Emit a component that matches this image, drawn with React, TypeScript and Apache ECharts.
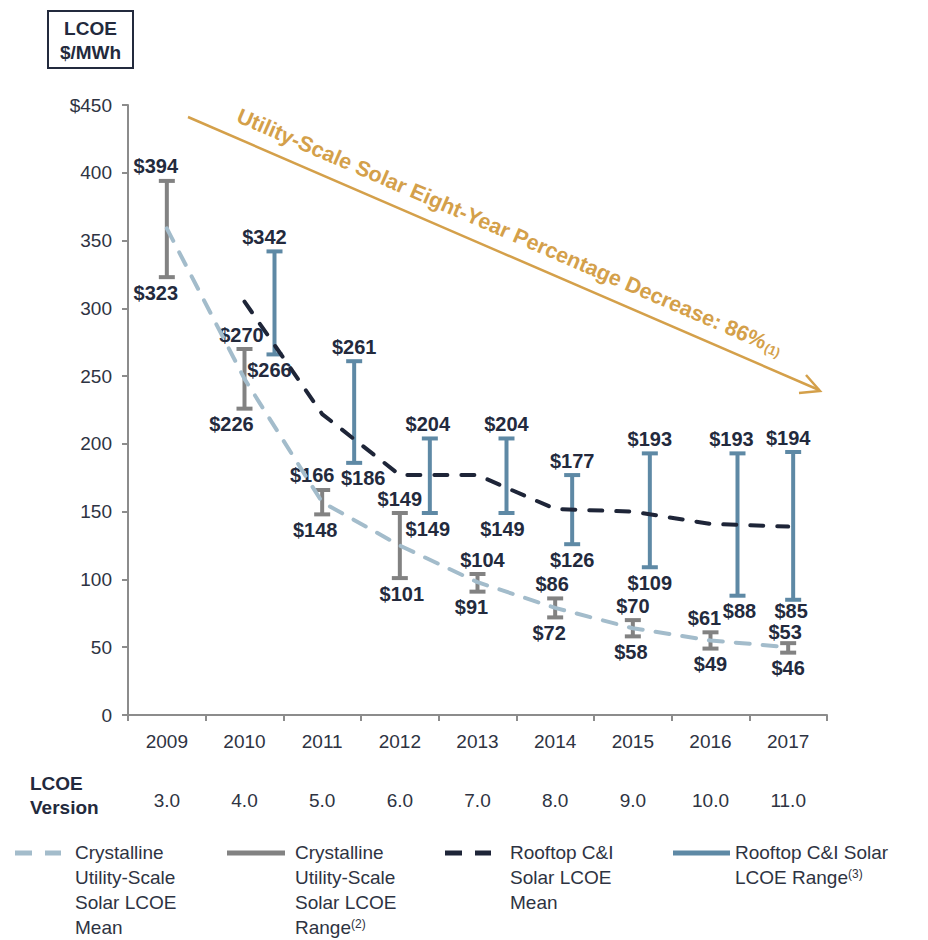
import React, { useEffect, useRef } from "react";
import * as echarts from "echarts";

const years = ["2009", "2010", "2011", "2012", "2013", "2014", "2015", "2016", "2017"];
const versions = ["3.0", "4.0", "5.0", "6.0", "7.0", "8.0", "9.0", "10.0", "11.0"];
const utilityLow = [323, 226, 148, 101, 91, 72, 58, 49, 46];
const utilityHigh = [394, 270, 166, 149, 104, 86, 70, 61, 53];
const rooftopLow = [null, 266, 186, 149, 149, 126, 109, 88, 85];
const rooftopHigh = [null, 342, 261, 204, 204, 177, 193, 193, 194];
const utilityMean = [359, 248, 157, 125, 98, 79, 64, 55, 50];
const rooftopMean = [null, 305, 222, 177, 177, 152, 150, 141, 139];
const yTicks = [0, 50, 100, 150, 200, 250, 300, 350, 400, 450];

// layout (pixel shifts, not data)
const rooftopShift = [0, 30, 32, 30, 29, 17, 17, 27, 5];
const utilTopDx = [-11, -3, -10, 0, 5, -3, 0, -6, -3];
const utilBotDx = [-11, -13, -7, 2, -6, -6, -2, 0, 0];
const roofTopDx = [0, -10, 0, -2, 0, 0, 0, -6, -5];
const roofBotDx = [0, -5, 9, -2, -4, 0, 0, 2, -2];
const utilTopDy = [0, 0, 0, 0, 0, 0, 0, 0, 3];
const utilBotDy = [0, 0, 0, 0, 0, 0, 0, 0, 0];
const roofTopDy = [0, 0, 0, 0, 0, 0, 0, 0, 0];
const roofBotDy = [0, 0, 0, 0, 0, 0, 0, 0, -4];

const FONT = '"Liberation Sans", Arial, Helvetica, sans-serif';
const NAVY = "#232a3d";
const TEXT = "#2e3342";
const GRAY = "#828282";
const BLUE = "#5e89a5";
const LIGHT = "#a3bccb";
const DARK = "#1e2538";
const GOLD = "#d4a04a";

function makeRender(
  color: string,
  shifts: number[],
  topDx: number[],
  botDx: number[],
  topDy: number[],
  botDy: number[]
) {
  return (params: any, api: any) => {
    const i = api.value(0);
    const lo = api.value(1);
    const hi = api.value(2);
    const pLo = api.coord([i, lo]);
    const pHi = api.coord([i, hi]);
    const x = pLo[0] + shifts[i];
    const half = 8;
    const ls = { stroke: color, lineWidth: 4 };
    return {
      type: "group",
      children: [
        { type: "line", shape: { x1: x, y1: pHi[1], x2: x, y2: pLo[1] }, style: ls },
        { type: "line", shape: { x1: x - half, y1: pHi[1], x2: x + half, y2: pHi[1] }, style: ls },
        { type: "line", shape: { x1: x - half, y1: pLo[1], x2: x + half, y2: pLo[1] }, style: ls },
        {
          type: "text",
          style: {
            text: "$" + hi,
            x: x + topDx[i],
            y: pHi[1] - 5 + topDy[i],
            align: "center",
            verticalAlign: "bottom",
            fontSize: 20,
            lineHeight: 19,
            fontWeight: "bold",
            fontFamily: FONT,
            fill: NAVY,
          },
        },
        {
          type: "text",
          style: {
            text: "$" + lo,
            x: x + botDx[i],
            y: pLo[1] + 6 + botDy[i],
            align: "center",
            verticalAlign: "top",
            fontSize: 20,
            lineHeight: 19,
            fontWeight: "bold",
            fontFamily: FONT,
            fill: NAVY,
          },
        },
      ],
    };
  };
}

export default function App() {
  const ref = useRef<HTMLDivElement>(null);
  useEffect(() => {
    if (!ref.current) return;
    const chart = echarts.init(ref.current, undefined, { renderer: "svg" });

    const utilData = years.map((_, i) => [i, utilityLow[i], utilityHigh[i]]);
    const roofData = years
      .map((_, i) => [i, rooftopLow[i], rooftopHigh[i]])
      .filter((d) => d[1] !== null);

    const legendText = (x: number, y: number, text: string) => ({
      type: "text",
      x,
      y,
      style: {
        text,
        fill: TEXT,
        fontSize: 19,
        fontFamily: FONT,
        lineHeight: 25,
        verticalAlign: "top",
        align: "left",
        rich: {
          sup: { fontSize: 12, fontFamily: FONT, fill: TEXT, lineHeight: 25, padding: [0, 0, 8, 0] },
        },
      },
    });

    const option: any = {
      animation: false,
      grid: { left: 128, right: 101, top: 105, bottom: 225 },
      xAxis: [
        {
          type: "category",
          data: years,
          boundaryGap: true,
          axisLine: { show: true, lineStyle: { color: "#8c8c8c", width: 2 } },
          axisTick: { show: true, length: 6, lineStyle: { color: "#8c8c8c", width: 2 } },
          axisLabel: { color: TEXT, fontSize: 19, fontFamily: FONT, margin: 17 },
          splitLine: { show: false },
        },
        {
          type: "category",
          data: versions,
          position: "bottom",
          offset: 60,
          axisLine: { show: false },
          axisTick: { show: false },
          axisLabel: { color: TEXT, fontSize: 19, fontFamily: FONT, margin: 16 },
          splitLine: { show: false },
        },
      ],
      yAxis: {
        type: "value",
        min: 0,
        max: 450,
        interval: 50,
        axisLine: { show: true, lineStyle: { color: "#8c8c8c", width: 2 } },
        axisTick: { show: true, length: 6, lineStyle: { color: "#8c8c8c", width: 2 } },
        axisLabel: {
          color: TEXT,
          fontSize: 19,
          fontFamily: FONT,
          margin: 16,
          formatter: (v: number) => (v === yTicks[yTicks.length - 1] ? "$" + v : String(v)),
        },
        splitLine: { show: false },
      },
      series: [
        {
          type: "custom",
          name: "Crystalline Utility-Scale Solar LCOE Range",
          xAxisIndex: 0,
          renderItem: makeRender(GRAY, years.map(() => 0), utilTopDx, utilBotDx, utilTopDy, utilBotDy),
          data: utilData,
          encode: { x: 0, y: [1, 2] },
          z: 2,
        },
        {
          type: "custom",
          name: "Rooftop C&I Solar LCOE Range",
          xAxisIndex: 0,
          renderItem: makeRender(BLUE, rooftopShift, roofTopDx, roofBotDx, roofTopDy, roofBotDy),
          data: roofData,
          encode: { x: 0, y: [1, 2] },
          z: 2,
        },
        {
          type: "line",
          name: "Crystalline Utility-Scale Solar LCOE Mean",
          xAxisIndex: 0,
          data: utilityMean,
          symbol: "none",
          lineStyle: { color: LIGHT, width: 4, type: [14, 13], cap: "round" },
          z: 3,
        },
        {
          type: "line",
          name: "Rooftop C&I Solar LCOE Mean",
          xAxisIndex: 0,
          data: rooftopMean.map((v) => (v === null ? "-" : v)),
          symbol: "none",
          lineStyle: { color: DARK, width: 4, type: [13, 14], cap: "round" },
          z: 3,
        },
      ],
      graphic: [
        // unit box
        {
          type: "rect",
          shape: { x: 48, y: 11, width: 85, height: 57 },
          style: { fill: "none", stroke: NAVY, lineWidth: 2 },
        },
        {
          type: "text",
          x: 90.5,
          y: 28,
          style: { text: "LCOE", fill: NAVY, fontSize: 19, fontWeight: "bold", fontFamily: FONT, align: "center", verticalAlign: "middle" },
        },
        {
          type: "text",
          x: 90.5,
          y: 52,
          style: { text: "$/MWh", fill: NAVY, fontSize: 19, fontWeight: "bold", fontFamily: FONT, align: "center", verticalAlign: "middle" },
        },
        // LCOE Version label
        {
          type: "text",
          x: 30,
          y: 771,
          style: {
            text: "LCOE\nVersion",
            fill: NAVY,
            fontSize: 19,
            fontWeight: "bold",
            fontFamily: FONT,
            lineHeight: 24,
            align: "left",
            verticalAlign: "top",
          },
        },
        // arrow
        {
          type: "line",
          shape: { x1: 188, y1: 117, x2: 819, y2: 390 },
          style: { stroke: GOLD, lineWidth: 2.5 },
        },
        {
          type: "polyline",
          shape: { points: [[806, 375], [820, 391], [799, 393]] },
          style: { stroke: GOLD, lineWidth: 2.5, fill: "none" },
        },
        {
          type: "text",
          x: 238,
          y: 115,
          rotation: -Math.atan2(273, 631),
          style: {
            text: "Utility-Scale Solar Eight-Year Percentage Decrease: 86%{sup|(1)}",
            fill: GOLD,
            fontSize: 21.5,
            fontWeight: "bold",
            fontFamily: FONT,
            align: "left",
            verticalAlign: "middle",
            rich: {
              sup: { fontSize: 13, fontWeight: "bold", fontFamily: FONT, fill: GOLD, padding: [8, 0, 0, 1] },
            },
          },
        },
        // legend
        {
          type: "line",
          shape: { x1: 15, y1: 853, x2: 61, y2: 853 },
          style: { stroke: LIGHT, lineWidth: 5, lineDash: [17, 13] },
        },
        legendText(75, 840, "Crystalline\nUtility-Scale\nSolar LCOE\nMean"),
        {
          type: "line",
          shape: { x1: 227, y1: 853, x2: 285, y2: 853 },
          style: { stroke: GRAY, lineWidth: 5 },
        },
        legendText(295, 840, "Crystalline\nUtility-Scale\nSolar LCOE\nRange{sup|(2)}"),
        {
          type: "line",
          shape: { x1: 445, y1: 853, x2: 491, y2: 853 },
          style: { stroke: DARK, lineWidth: 5, lineDash: [17, 13] },
        },
        legendText(510, 840, "Rooftop C&I\nSolar LCOE\nMean"),
        {
          type: "line",
          shape: { x1: 673, y1: 853, x2: 730, y2: 853 },
          style: { stroke: BLUE, lineWidth: 5 },
        },
        legendText(735, 840, "Rooftop C&I Solar\nLCOE Range{sup|(3)}"),
      ],
    };

    chart.setOption(option);
    return () => chart.dispose();
  }, []);

  return (
    <div
      ref={ref}
      style={{ position: "absolute", left: 0, top: 0, width: 928, height: 940, background: "#fff" }}
    />
  );
}
